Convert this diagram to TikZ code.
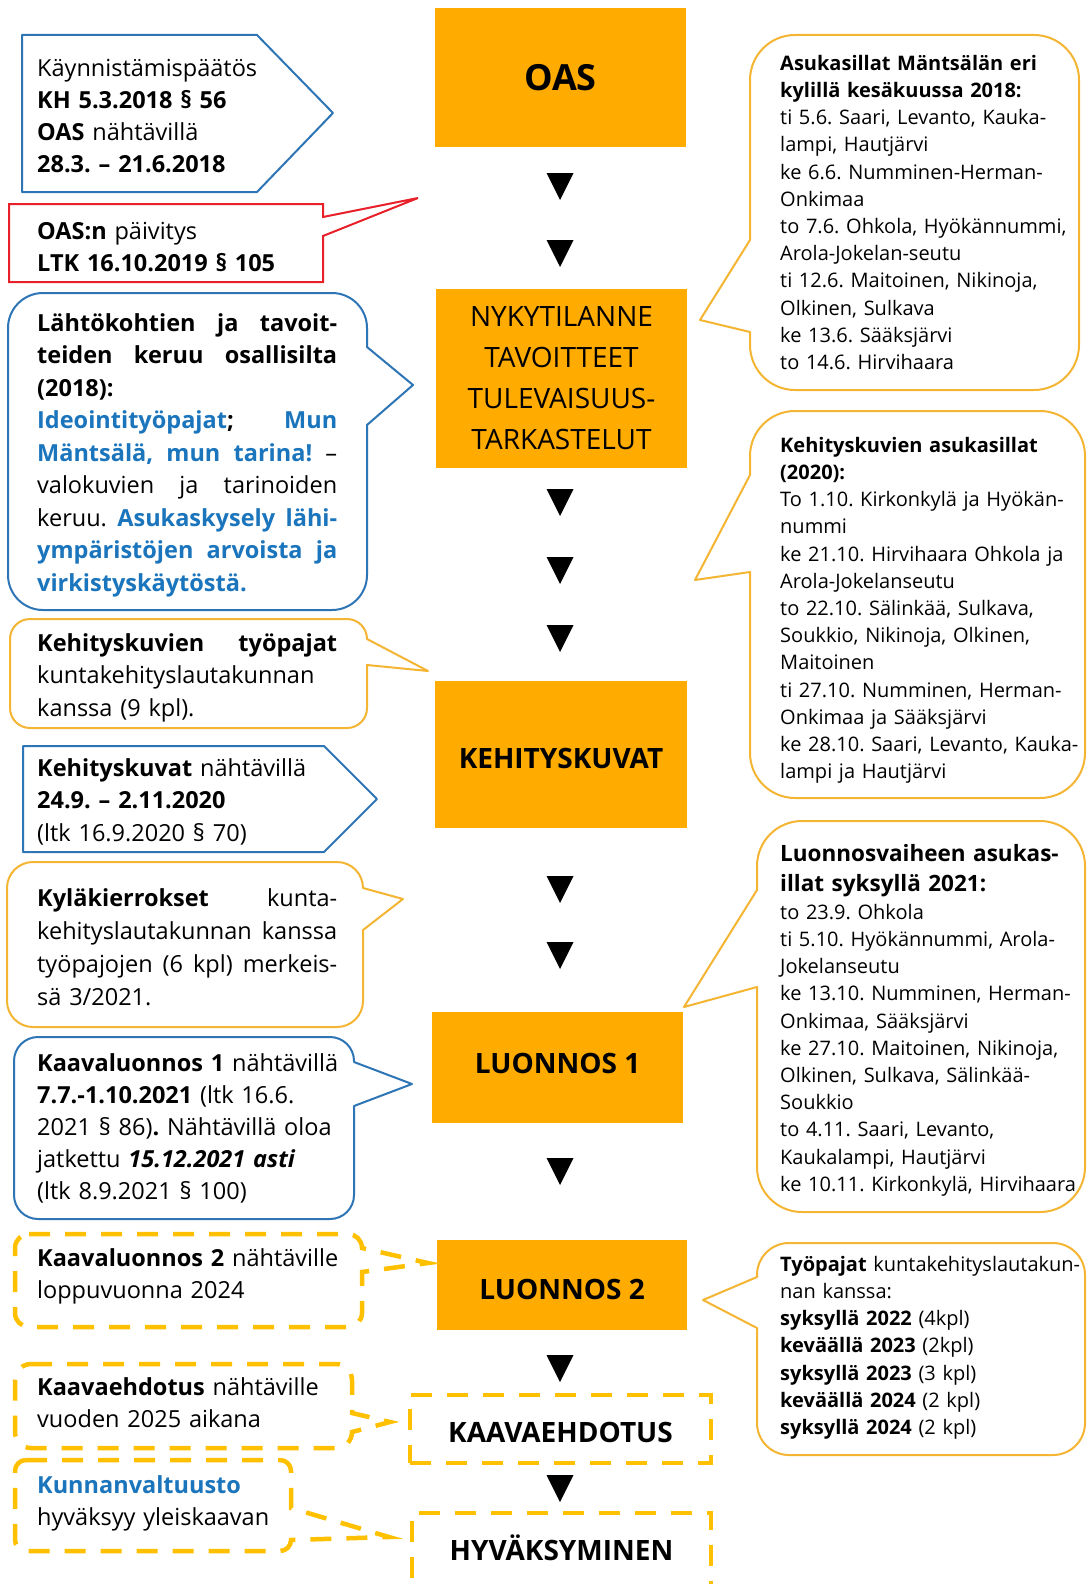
\documentclass[tikz,border=0pt]{standalone}
\usepackage{fontspec}
\setmainfont{Open Sans}
\definecolor{ofill}{HTML}{FFAB00}
\definecolor{cyel}{HTML}{F4B533}
\definecolor{dyel}{HTML}{FFC000}
\definecolor{cblue}{HTML}{2E75B6}
\definecolor{tblue}{HTML}{1B75BC}
\definecolor{cred}{HTML}{E8202A}
\frenchspacing
\newcommand\B{\bfseries\color{tblue}}
\newcommand\J[1]{\leavevmode\hbox to 300pt{#1}}
% rounded callout, pointer on the right side
\newcommand\callR[9]{\draw[#1] (#2+#6,#3) -- (#4-#6,#3) .. controls (#4-0.448*#6,#3) and (#4,#3+0.448*#6) .. (#4,#3+#6) -- (#4,#7) -- (#9) -- (#4,#8) -- (#4,#5-#6) .. controls (#4,#5-0.448*#6) and (#4-0.448*#6,#5) .. (#4-#6,#5) -- (#2+#6,#5) .. controls (#2+0.448*#6,#5) and (#2,#5-0.448*#6) .. (#2,#5-#6) -- (#2,#3+#6) .. controls (#2,#3+0.448*#6) and (#2+0.448*#6,#3) .. (#2+#6,#3) -- cycle;}
% rounded callout, pointer on the left side
\newcommand\callL[9]{\draw[#1] (#2+#6,#3) -- (#4-#6,#3) .. controls (#4-0.448*#6,#3) and (#4,#3+0.448*#6) .. (#4,#3+#6) -- (#4,#5-#6) .. controls (#4,#5-0.448*#6) and (#4-0.448*#6,#5) .. (#4-#6,#5) -- (#2+#6,#5) .. controls (#2+0.448*#6,#5) and (#2,#5-0.448*#6) .. (#2,#5-#6) -- (#2,#8) -- (#9) -- (#2,#7) -- (#2,#3+#6) .. controls (#2,#3+0.448*#6) and (#2+0.448*#6,#3) .. (#2+#6,#3) -- cycle;}
\tikzset{
  solidblue/.style={draw=cblue, line width=2pt, line join=round},
  solidyel/.style={draw=cyel, line width=2pt, line join=round},
  solidred/.style={draw=cred, line width=2pt, line join=miter},
  dashyel/.style={draw=dyel, line width=4.5pt, dash pattern=on 21pt off 15pt},
  ltxt/.style={anchor=north west, inner sep=0pt, text width=320pt, align=left, font=\fontsize{23.5}{32}\selectfont},
  rtxt/.style={anchor=north west, inner sep=0pt, text width=330pt, align=left, font=\fontsize{20}{27.2}\selectfont},
  obox/.style={fill=ofill, inner sep=0pt, align=center, text height=20pt, text depth=0pt, font=\fontsize{28}{41}\selectfont\bfseries},
  nbox/.style={fill=ofill, inner sep=0pt, align=center, font=\fontsize{28}{41}\selectfont},
  dbox/.style={draw=dyel, line width=4.5pt, dash pattern=on 21pt off 15pt, inner sep=0pt, text height=20pt, text depth=0pt, font=\fontsize{28}{34}\selectfont\bfseries},
  tri/.style={fill=black}
}
\begin{document}
\begin{tikzpicture}[x=1pt, y=-1pt]
\fill[white] (0,0) rectangle (1087,1584);
\useasboundingbox (0,0) rectangle (1087,1584);

% ---------- central column ----------
\node[obox, minimum width=251pt, minimum height=139pt, text height=26pt, font=\fontsize{36}{40}\selectfont\bfseries] (oas) at (560.5,77.5) {OAS};
\node[nbox, minimum width=251pt, minimum height=179pt] (nyky) at (561.5,378.5) {NYKYTILANNE\\TAVOITTEET\\TULEVAISUUS-\\TARKASTELUT};
\node[obox, minimum width=252pt, minimum height=147pt, text height=27pt] (kehi) at (561,754.5) {KEHITYSKUVAT};
\node[obox, minimum width=251pt, minimum height=111pt, text depth=9pt] (luo1) at (557.5,1067.5) {LUONNOS 1};
\node[obox, minimum width=250pt, minimum height=90pt, text height=28pt] (luo2) at (562,1285) {LUONNOS 2};
\node[dbox, minimum width=301pt, minimum height=68pt, text height=26pt] (kaava) at (560.5,1429) {KAAVAEHDOTUS};
\node[dbox, minimum width=299pt, minimum height=78pt, text depth=4pt] (hyv) at (561.5,1552) {HYVÄKSYMINEN};

\foreach \t in {173,240,489,557,625,876,942,1158,1355,1475}
  \fill[tri] (546.5,\t) -- (573.5,\t) -- (560,\t+27) -- cycle;

% ---------- left column ----------
\draw[solidblue] (22,35) -- (257,35) -- (333,113) -- (257,192) -- (22,192) -- cycle;
\node[ltxt] (l1) at (37,53.6) {\strut Käynnistämispäätös\\\textbf{KH 5.3.2018 § 56}\\\textbf{OAS} nähtävillä\\\textbf{28.3. – 21.6.2018}};

\draw[solidred] (9,204) -- (323,204) -- (323,217) -- (418,198) -- (323,236) -- (323,282) -- (9,282) -- cycle;
\node[ltxt] (l2) at (37,216.6) {\strut\textbf{OAS:n} päivitys\\\textbf{LTK 16.10.2019 § 105}};

\callR{solidblue}{8}{293}{367}{610}{35}{347}{425}{413,385}
\node[ltxt, font=\fontsize{23.5}{32.5}\selectfont] (l3) at (37,308.25) {\strut\J{\textbf{Lähtökohtien}\hfill\textbf{ja}\hfill\textbf{tavoit-}}\\
\strut\J{\textbf{teiden}\hfill\textbf{keruu}\hfill\textbf{osallisilta}}\\
\textbf{(2018):}\\
\strut\J{{\B Ideointityöpajat}\textbf{;}\hfill{\B Mun}}\\
\strut\J{{\B Mäntsälä,}\hfill{\B mun}\hfill{\B tarina!}\hfill–}\\
\strut\J{valokuvien\hfill ja\hfill tarinoiden}\\
\strut\J{keruu.\hfill{\B Asukaskysely}\hfill{\B lähi-}}\\
\strut\J{{\B ympäristöjen}\hfill{\B arvoista}\hfill{\B ja}}\\
{\B virkistyskäytöstä.}};

\callR{solidyel}{10}{619}{367}{728}{20}{639}{665}{428,671}
\node[ltxt, font=\fontsize{23.5}{32.5}\selectfont] (l4) at (37,628.25) {\strut\J{\textbf{Kehityskuvien}\hfill\textbf{työpajat}}\\kuntakehityslautakunnan\\kanssa (9 kpl).};

\draw[solidblue] (23,746) -- (324,746) -- (377,799) -- (324,852) -- (23,852) -- cycle;
\node[ltxt, font=\fontsize{23.5}{32.5}\selectfont] (l5) at (37,753.25) {\strut\textbf{Kehityskuvat} nähtävillä\\\textbf{24.9. – 2.11.2020}\\(ltk 16.9.2020 § 70)};

\callR{solidyel}{7}{862}{363}{1027}{26}{888}{930}{403,899}
\node[ltxt, font=\fontsize{23.5}{33}\selectfont] (l6) at (37,882.9) {\strut\J{\textbf{Kyläkierrokset}\hfill kunta-}\\\strut\J{kehityslautakunnan\hfill kanssa}\\\strut\J{työpajojen\hfill(6\hfill kpl)\hfill merkeis-}\\sä 3/2021.};

\callR{solidblue}{14}{1037}{354}{1219}{24}{1062}{1106}{412,1084}
\node[ltxt] (l7) at (37,1048.6) {\strut\textbf{Kaavaluonnos 1} nähtävillä\\\textbf{7.7.-1.10.2021} (ltk 16.6.\\2021 § 86)\textbf{.} Nähtävillä oloa\\jatkettu \textbf{\itshape 15.12.2021 asti}\\(ltk 8.9.2021 § 100)};

\callR{dashyel}{15}{1234}{362}{1327}{14}{1248}{1272}{428,1263}
\node[ltxt] (l8) at (37,1243.6) {\strut\textbf{Kaavaluonnos 2} nähtäville\\loppuvuonna 2024};

\callR{dashyel}{15}{1364}{352}{1448}{16}{1413}{1432}{390,1422}
\node[ltxt] (l9) at (37,1372.6) {\strut\textbf{Kaavaehdotus} nähtäville\\vuoden 2025 aikana};

\callR{dashyel}{15}{1460}{291}{1551}{11}{1508}{1540}{389,1537}
\node[ltxt] (l10) at (37,1470.6) {\strut{\B Kunnanvaltuusto}\\hyväksyy yleiskaavan};

% ---------- right column ----------
\callL{solidyel}{750}{35}{1079}{390}{45}{240}{332}{700,320}
\node[rtxt] (r1) at (780,51) {\strut\textbf{Asukasillat Mäntsälän eri}\\\textbf{kylillä kesäkuussa 2018:}\\ti 5.6. Saari, Levanto, Kauka-\\lampi, Hautjärvi\\ke 6.6. Numminen-Herman-\\Onkimaa\\to 7.6. Ohkola, Hyökännummi,\\Arola-Jokelan-seutu\\ti 12.6. Maitoinen, Nikinoja,\\Olkinen, Sulkava\\ke 13.6. Sääksjärvi\\to 14.6. Hirvihaara};

\callL{solidyel}{750}{411}{1085}{798}{45}{475}{572}{695,580}
\node[rtxt] (r2) at (780,433) {\strut\textbf{Kehityskuvien asukasillat}\\\textbf{(2020):}\\To 1.10. Kirkonkylä ja Hyökän-\\nummi\\ke 21.10. Hirvihaara Ohkola ja\\Arola-Jokelanseutu\\to 22.10. Sälinkää, Sulkava,\\Soukkio, Nikinoja, Olkinen,\\Maitoinen\\ti 27.10. Numminen, Herman-\\Onkimaa ja Sääksjärvi\\ke 28.10. Saari, Levanto, Kauka-\\lampi ja Hautjärvi};

\callL{solidyel}{757}{821}{1085}{1212}{45}{890}{987}{684,1007}
\node[rtxt, font=\fontsize{22.5}{30}\selectfont\bfseries] (r3h) at (780,840) {\strut Luonnosvaiheen asukas-\\illat syksyllä 2021:};
\node[rtxt] (r3) at (780,900) {\strut to 23.9. Ohkola\\ti 5.10. Hyökännummi, Arola-\\Jokelanseutu\\ke 13.10. Numminen, Herman-\\Onkimaa, Sääksjärvi\\ke 27.10. Maitoinen, Nikinoja,\\Olkinen, Sulkava, Sälinkää-\\Soukkio\\to 4.11. Saari, Levanto,\\Kaukalampi, Hautjärvi\\ke 10.11. Kirkonkylä, Hirvihaara};

\callL{solidyel}{757}{1243}{1085}{1455}{32}{1277}{1328}{703,1300}
\node[rtxt] (r4) at (780,1252) {\strut\textbf{Työpajat} kuntakehityslautakun-\\nan kanssa:\\\textbf{syksyllä 2022} (4kpl)\\\textbf{keväällä 2023} (2kpl)\\\textbf{syksyllä 2023} (3 kpl)\\\textbf{keväällä 2024} (2 kpl)\\\textbf{syksyllä 2024} (2 kpl)};
\end{tikzpicture}
\end{document}
